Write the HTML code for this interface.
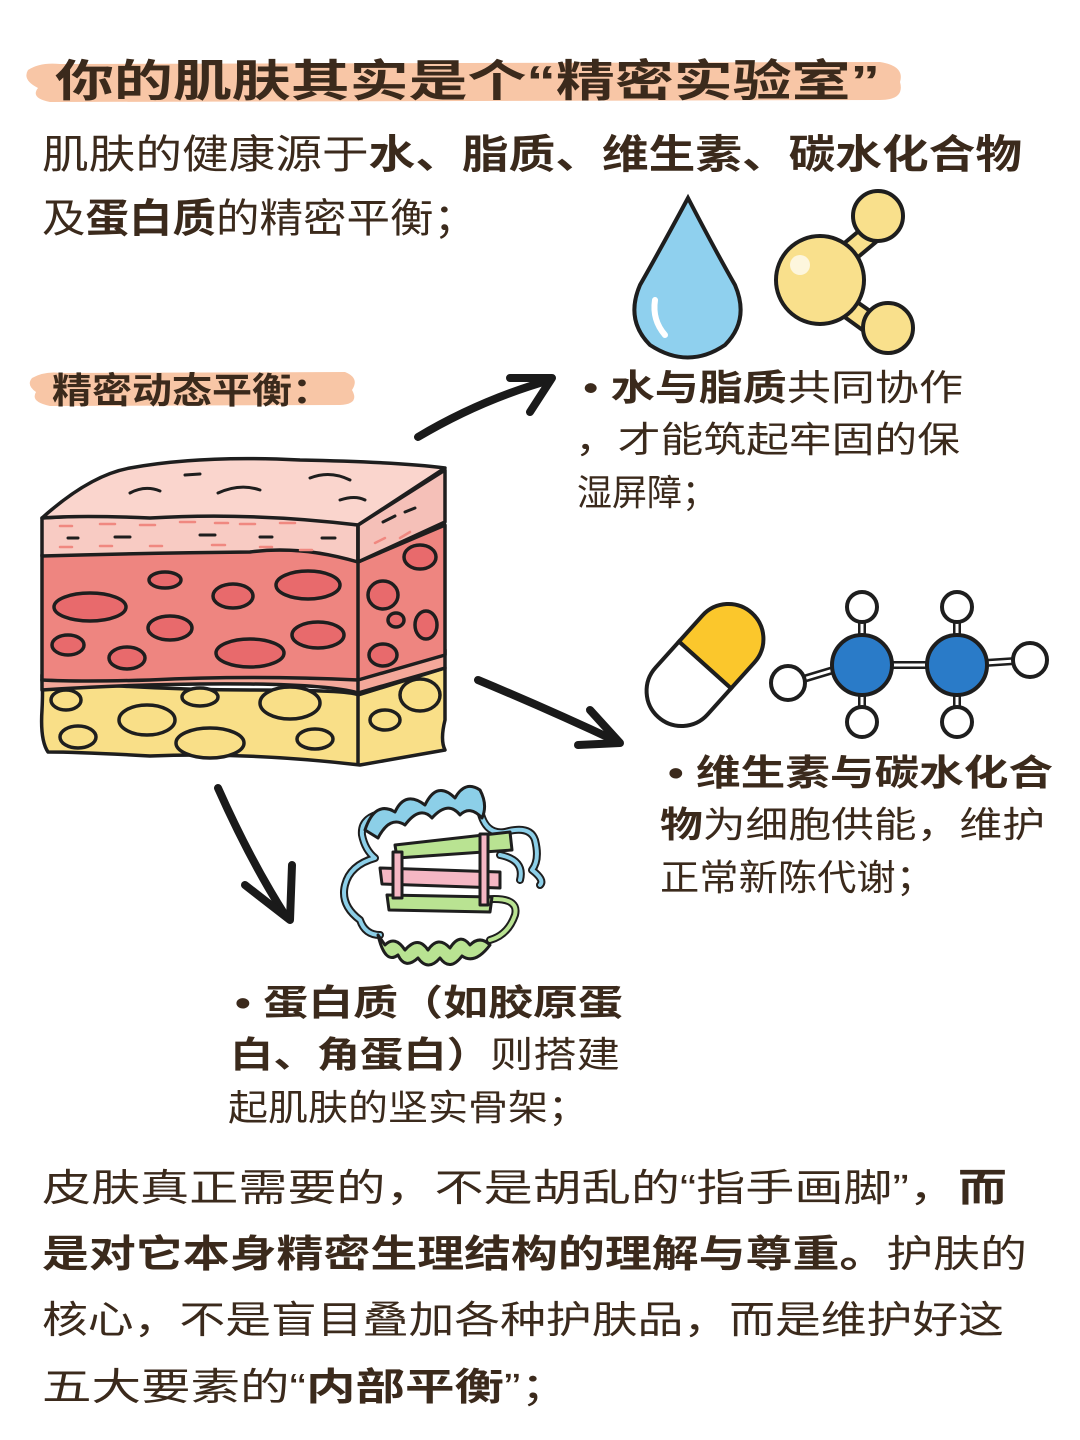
<!DOCTYPE html>
<html><head><meta charset="utf-8"><style>
html,body{margin:0;padding:0;background:#fff;}
svg{display:block}
text{font-family:"Liberation Sans","Noto Sans CJK SC",sans-serif;fill:#3b2a1c;}
.b{font-weight:bold}
</style></head><body>
<svg width="1080" height="1440" viewBox="0 0 1080 1440" xmlns="http://www.w3.org/2000/svg">
<rect width="1080" height="1440" fill="#fff"/>
<path d="M28 70 Q40 62 60 64 L880 62 Q905 66 900 82 Q905 100 880 100 L50 102 Q30 98 38 88 Q22 80 28 70Z" fill="#f8c6a6"/>
<text x="55" y="96" font-size="44" class="b" textLength="825" lengthAdjust="spacingAndGlyphs">你的肌肤其实是个“精密实验室”</text>
<text x="42" y="168" font-size="40" textLength="980" lengthAdjust="spacingAndGlyphs">肌肤的健康源于<tspan class="b">水、脂质、维生素、碳水化合物</tspan></text>
<text x="42" y="232" font-size="40" textLength="435" lengthAdjust="spacingAndGlyphs">及<tspan class="b">蛋白质</tspan>的精密平衡；</text>
<path d="M32 378 Q45 371 60 373 L345 372 Q360 378 352 390 Q360 404 340 405 L50 406 Q30 402 36 392 Q26 385 32 378Z" fill="#f8c6a6"/>
<text x="52" y="403" font-size="36" class="b" textLength="280" lengthAdjust="spacingAndGlyphs">精密动态平衡：</text>

<path d="M688 198 Q660 250 640 285 Q625 320 650 345 Q688 370 725 345 Q750 320 735 285 Q715 250 688 198Z" fill="#8fd0ee" stroke="#1e1e1e" stroke-width="4"/>
<path d="M655 300 Q652 320 665 335" stroke="#fff" stroke-width="6" fill="none" stroke-linecap="round"/>
<g stroke="#1e1e1e" stroke-width="4" fill="#f9e08c">
<path d="M830 255 L878 215 L888 232 L845 268 Z M840 290 L880 318 L868 334 L828 305Z"/>
<circle cx="820" cy="280" r="44"/>
<circle cx="878" cy="216" r="25"/>
<circle cx="888" cy="328" r="25"/>
</g>
<circle cx="800" cy="265" r="10" fill="#fff" opacity=".7"/>

<g stroke="#1a1a1a" stroke-width="8" fill="none" stroke-linecap="round" stroke-linejoin="round">
<path d="M418 437 Q480 400 550 380"/>
<path d="M510 378 L552 378 L530 412"/>
<path d="M478 680 Q550 710 618 742"/>
<path d="M590 710 L620 743 L578 745"/>
<path d="M218 788 Q250 860 285 915"/>
<path d="M245 885 L290 920 L292 865"/>
</g>

<g stroke="#1e1e1e" stroke-width="3.5" stroke-linejoin="round">
<path d="M42 710 Q43 690 42 680 Q150 690 250 690 Q350 690 358 695 L445 668 L445 720 Q440 740 445 750 L360 765 Q250 752 150 756 Q80 752 48 752 Q40 740 42 710Z" fill="#f9df88"/>
<path d="M42 675 L42 690 Q150 683 250 684 Q330 685 358 693 L445 668 L445 650 L358 675Z" fill="#f4a89a"/>
<path d="M42 555 Q150 552 250 550 Q330 548 358 562 L445 525 L445 655 L358 680 Q250 675 150 680 Q80 682 42 680 Z" fill="#ee8580"/>
<path d="M42 518 Q150 512 250 515 Q330 520 358 525 L358 562 Q300 545 250 552 Q150 553 42 556Z" fill="#f8cbc3"/>
<path d="M358 525 L445 470 L445 522 L358 562Z" fill="#f5c0b8"/>
<path d="M42 518 Q90 475 130 468 Q200 455 300 460 Q400 462 445 468 L358 525 Q250 512 150 518 Q80 515 42 518Z" fill="#fad5cd"/>
<path d="M358 525 L358 765" fill="none"/>
<g fill="#e86a6c">
<ellipse cx="90" cy="607" rx="36" ry="14"/><ellipse cx="165" cy="580" rx="16" ry="8"/>
<ellipse cx="170" cy="628" rx="22" ry="12"/><ellipse cx="233" cy="596" rx="20" ry="12"/>
<ellipse cx="308" cy="585" rx="32" ry="14"/><ellipse cx="318" cy="635" rx="26" ry="13"/>
<ellipse cx="68" cy="645" rx="16" ry="10"/><ellipse cx="127" cy="658" rx="18" ry="11"/>
<ellipse cx="250" cy="653" rx="34" ry="14"/><ellipse cx="420" cy="557" rx="16" ry="12"/>
<ellipse cx="383" cy="595" rx="15" ry="14"/><ellipse cx="396" cy="620" rx="8" ry="7"/>
<ellipse cx="426" cy="625" rx="11" ry="14"/><ellipse cx="383" cy="655" rx="14" ry="11"/>
</g>
<g fill="#f9df88">
<ellipse cx="66" cy="700" rx="15" ry="10"/><ellipse cx="147" cy="720" rx="28" ry="15"/>
<ellipse cx="200" cy="697" rx="18" ry="9"/><ellipse cx="290" cy="703" rx="30" ry="16"/>
<ellipse cx="78" cy="737" rx="18" ry="11"/><ellipse cx="210" cy="743" rx="34" ry="15"/>
<ellipse cx="315" cy="739" rx="18" ry="10"/><ellipse cx="420" cy="695" rx="20" ry="16"/>
<ellipse cx="385" cy="720" rx="15" ry="10"/>
</g>
</g>
<g stroke="#1e1e1e" stroke-width="3" fill="none" stroke-linecap="round">
<path d="M130 493 Q145 485 160 491"/><path d="M185 475 L200 474"/><path d="M218 493 Q240 483 260 490"/>
<path d="M310 478 Q330 470 350 480"/><path d="M340 500 Q355 495 365 500"/>
<path d="M68 538 L78 538 M115 537 L130 537 M200 535 L215 535 M260 537 L272 537 M322 538 L335 538 M383 522 L395 516 M405 512 L415 508"/>
</g>
<g stroke="#f08880" stroke-width="2.5" fill="none" stroke-linecap="round">
<path d="M60 526 L72 526 M100 524 L115 524 M140 525 L155 525 M180 522 L195 522 M215 523 L228 523 M240 524 L255 524 M280 523 L295 523 M60 547 L72 547 M100 546 L112 546 M150 546 L162 546 M212 545 L225 545 M260 547 L272 547 M300 550 L312 550 M375 543 L385 538 M400 538 L410 532"/>
</g>

<!-- protein -->
<g fill="none" stroke-linecap="round" stroke-linejoin="round">
<path d="M390 812 Q360 815 362 835 Q365 850 375 858 Q350 865 345 885 Q340 905 360 920 Q365 935 380 935" stroke="#1e1e1e" stroke-width="8"/>
<path d="M390 812 Q360 815 362 835 Q365 850 375 858 Q350 865 345 885 Q340 905 360 920 Q365 935 380 935" stroke="#8ccfe8" stroke-width="4"/>
<path d="M480 810 Q485 835 505 832 Q530 825 535 840 Q540 860 532 870 Q545 880 540 885 M500 855 Q525 860 520 880" stroke="#1e1e1e" stroke-width="8"/>
<path d="M480 810 Q485 835 505 832 Q530 825 535 840 Q540 860 532 870 Q545 880 540 885 M500 855 Q525 860 520 880" stroke="#8ccfe8" stroke-width="4"/>
<path d="M480 900 Q520 895 515 915 Q508 935 490 940" stroke="#1e1e1e" stroke-width="8"/>
<path d="M480 900 Q520 895 515 915 Q508 935 490 940" stroke="#b9e392" stroke-width="4"/>
</g>
<g stroke="#1e1e1e" stroke-width="3" stroke-linejoin="round">
<path d="M365 830 Q375 800 395 812 Q405 790 425 805 Q437 780 455 798 Q465 780 480 790 Q488 805 482 818 Q470 805 460 815 Q448 800 432 818 Q420 805 405 825 Q390 815 378 838Z" fill="#8ccfe8"/>
<path d="M378 935 Q385 965 398 955 Q405 970 418 958 Q428 972 440 958 Q450 972 462 956 Q475 965 490 945 Q480 935 470 945 Q460 932 450 948 Q438 935 428 950 Q418 935 405 950 Q395 935 385 945Z" fill="#b9e392"/>
<path d="M395 845 L510 832 L512 850 L397 858Z" fill="#b9e392"/>
<path d="M380 868 L500 872 L500 888 L382 884Z" fill="#f5b7c4"/>
<path d="M387 895 L492 897 L490 912 L389 910Z" fill="#b9e392"/>
<path d="M393 852 L393 898 L402 898 L402 852Z M480 834 L480 905 L488 905 L488 834Z" fill="#f5b7c4"/>
</g>

<g transform="rotate(-48 705 665)" stroke="#1e1e1e" stroke-width="4">
<path d="M705 630 L740 630 A35 35 0 0 1 740 700 L705 700Z" fill="#fbc72c"/>
<path d="M705 630 L670 630 A35 35 0 0 0 670 700 L705 700Z" fill="#fff"/>
</g>
<g stroke="#1e1e1e" stroke-width="4">
<path d="M790 683 L850 665 M862 610 L862 640 M862 690 L862 720 M878 665 L940 665 M957 610 L957 640 M957 690 L957 720 M985 663 L1030 660" stroke-width="8"/>
<path d="M790 683 L850 665 M862 610 L862 640 M862 690 L862 720 M878 665 L940 665 M957 610 L957 640 M957 690 L957 720 M985 663 L1030 660" stroke="#fff" stroke-width="3"/>
<circle cx="862" cy="665" r="30" fill="#2a7bc8"/>
<circle cx="957" cy="665" r="30" fill="#2a7bc8"/>
<g fill="#fff"><circle cx="788" cy="683" r="17"/><circle cx="862" cy="607" r="15"/><circle cx="862" cy="722" r="15"/>
<circle cx="957" cy="607" r="15"/><circle cx="957" cy="722" r="15"/><circle cx="1030" cy="660" r="17"/></g>
</g>

<g font-size="36">
<text x="583" y="400" textLength="380" lengthAdjust="spacingAndGlyphs">• <tspan class="b">水与脂质</tspan>共同协作</text>
<text x="575" y="452" textLength="385" lengthAdjust="spacingAndGlyphs">，才能筑起牢固的保</text>
<text x="577" y="505" textLength="140" lengthAdjust="spacingAndGlyphs">湿屏障；</text>
<text x="668" y="785" textLength="385" lengthAdjust="spacingAndGlyphs" class="b">• 维生素与碳水化合</text>
<text x="660" y="837" textLength="385" lengthAdjust="spacingAndGlyphs"><tspan class="b">物</tspan>为细胞供能，维护</text>
<text x="660" y="890" textLength="275" lengthAdjust="spacingAndGlyphs">正常新陈代谢；</text>
<text x="235" y="1015" textLength="388" lengthAdjust="spacingAndGlyphs" class="b">• 蛋白质（如胶原蛋</text>
<text x="230" y="1067" textLength="390" lengthAdjust="spacingAndGlyphs"><tspan class="b">白、角蛋白）</tspan>则搭建</text>
<text x="228" y="1120" textLength="360" lengthAdjust="spacingAndGlyphs">起肌肤的坚实骨架；</text>
</g>

<g font-size="38">
<text x="42" y="1201" textLength="965" lengthAdjust="spacingAndGlyphs">皮肤真正需要的，不是胡乱的“指手画脚”，<tspan class="b">而</tspan></text>
<text x="42" y="1267" textLength="985" lengthAdjust="spacingAndGlyphs"><tspan class="b">是对它本身精密生理结构的理解与尊重。</tspan>护肤的</text>
<text x="42" y="1333" textLength="962" lengthAdjust="spacingAndGlyphs">核心，不是盲目叠加各种护肤品，而是维护好这</text>
<text x="42" y="1400" textLength="528" lengthAdjust="spacingAndGlyphs">五大要素的“<tspan class="b">内部平衡</tspan>”；</text>
</g>
</svg>
</body></html>
